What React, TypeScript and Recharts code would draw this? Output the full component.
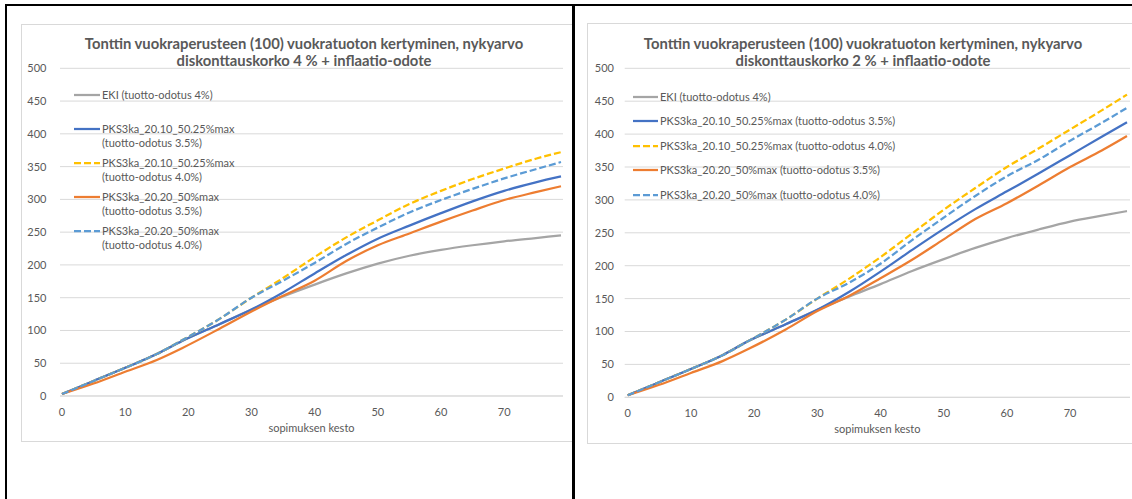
import { LineChart, Line, XAxis, YAxis, CartesianGrid, Legend } from "recharts";

const years = [0, 5, 10, 15, 19, 25, 30, 35, 40, 45, 50, 55, 60, 65, 70, 75, 79];
const xTicks = [0, 10, 20, 30, 40, 50, 60, 70];
const yTicks = [0, 50, 100, 150, 200, 250, 300, 350, 400, 450, 500];

const seriesNames = [
  "EKI (tuotto-odotus 4%)",
  "PKS3ka_20.10_50.25%max (tuotto-odotus 3.5%)",
  "PKS3ka_20.10_50.25%max (tuotto-odotus 4.0%)",
  "PKS3ka_20.20_50%max (tuotto-odotus 3.5%)",
  "PKS3ka_20.20_50%max (tuotto-odotus 4.0%)",
];

// diskonttauskorko 4 %
const eki4 = [3, 23, 43, 64, 84, 110, 132, 152, 170, 187, 202, 214, 223, 230, 236, 241, 245];
const pks1035_4 = [3, 23, 43, 64, 84, 110, 132, 158, 187, 215, 240, 260, 279, 297, 313, 326, 335];
const pks1040_4 = [3, 23, 43, 64, 85, 118, 150, 180, 212, 242, 268, 293, 313, 331, 347, 362, 372];
const pks2035_4 = [3, 19, 37, 55, 73, 103, 129, 153, 176, 206, 230, 248, 266, 283, 299, 311, 320];
const pks2040_4 = [3, 23, 43, 64, 85, 118, 150, 176, 203, 232, 257, 280, 299, 316, 332, 346, 357];

// diskonttauskorko 2 %
const eki2 = [3, 23, 43, 64, 85, 111, 133, 153, 172, 192, 210, 227, 242, 255, 267, 276, 283];
const pks1035_2 = [3, 23, 43, 64, 85, 111, 133, 160, 191, 224, 256, 286, 313, 340, 368, 396, 418];
const pks1040_2 = [3, 23, 43, 64, 85, 118, 150, 180, 213, 249, 285, 318, 350, 378, 407, 436, 460];
const pks2035_2 = [3, 19, 37, 55, 73, 103, 131, 154, 181, 209, 240, 271, 295, 322, 350, 375, 397];
const pks2040_2 = [3, 23, 43, 64, 85, 118, 150, 174, 203, 239, 273, 306, 336, 361, 390, 417, 440];

const styles = [
  { key: "s0", color: "#A5A5A5", dash: undefined },
  { key: "s1", color: "#4472C4", dash: undefined },
  { key: "s2", color: "#FFC000", dash: "7 3" },
  { key: "s3", color: "#ED7D31", dash: undefined },
  { key: "s4", color: "#5B9BD5", dash: "7 3" },
];

const TEXT = "#595959";
const FONT = "Lato, 'Open Sans', sans-serif";

const buildRows = (cols: number[][]) =>
  years.map((year, i) => {
    const row: Record<string, number> = { year };
    cols.forEach((c, j) => (row["s" + j] = c[i]));
    return row;
  });

type PanelProps = {
  left: number;
  width: number;
  title: string[];
  titleCenter: number;
  rows: Record<string, number>[];
  margin: { top: number; right: number; bottom: number; left: number };
  padX: number;
  yTickGap: number;
  legend: { left: number; top: number; width: number; step: number; textLeft: number };
};

const Panel = (p: PanelProps) => {
  const renderLegend = () => (
    <div style={{ position: "relative", width: p.legend.width, fontFamily: FONT, fontSize: 11, color: TEXT }}>
      {styles.map((s, i) => (
        <div
          key={s.key}
          style={{ position: "absolute", left: 0, top: i * p.legend.step, display: "flex", alignItems: "flex-start" }}
        >
          <svg width={p.legend.textLeft - 2} height={14} style={{ flex: "none" }}>
            <line x1={0} y1={7} x2={p.legend.textLeft - 2} y2={7} stroke={s.color} strokeWidth={2.25} strokeDasharray={s.dash} />
          </svg>
          <span style={{ marginLeft: 2, lineHeight: "14.3px", width: p.legend.width - p.legend.textLeft }}>{seriesNames[i]}</span>
        </div>
      ))}
    </div>
  );

  return (
    <div style={{ position: "absolute", left: p.left, top: 0, width: p.width, height: 499 }}>
      <div
        style={{
          position: "absolute",
          left: p.titleCenter - p.left - 260,
          width: 520,
          top: 34.5,
          textAlign: "center",
          fontFamily: FONT,
          fontWeight: 700,
          fontSize: 14.8,
          lineHeight: "17.5px",
          color: TEXT,
        }}
      >
        {p.title.map((t) => (
          <div key={t}>{t}</div>
        ))}
      </div>
      <LineChart width={p.width} height={499} data={p.rows} margin={p.margin} style={{ fontFamily: FONT }}>
        <CartesianGrid vertical={false} stroke="#D9D9D9" />
        <XAxis
          dataKey="year"
          type="number"
          domain={[0, 79]}
          ticks={xTicks}
          padding={{ left: p.padX, right: p.padX }}
          height={40}
          tickLine={false}
          tickSize={6}
          tickMargin={6}
          axisLine={{ stroke: "#D9D9D9" }}
          tick={{ fill: TEXT, fontSize: 11 }}
          label={{ value: "sopimuksen kesto", position: "insideBottom", offset: 4, fill: TEXT, fontSize: 11 }}
        />
        <YAxis
          domain={[0, 500]}
          ticks={yTicks}
          width={40}
          axisLine={false}
          tickLine={false}
          tickSize={6}
          tickMargin={p.yTickGap - 6}
          tick={{ fill: TEXT, fontSize: 11 }}
        />
        <Legend
          layout="vertical"
          align="center"
          verticalAlign="middle"
          content={renderLegend}
          wrapperStyle={{ left: p.legend.left, top: p.legend.top, width: p.legend.width, height: 5 * p.legend.step }}
        />
        {styles.map((s, i) => (
          <Line
            key={s.key}
            type="monotone"
            dataKey={s.key}
            name={seriesNames[i]}
            stroke={s.color}
            strokeWidth={2.25}
            strokeDasharray={s.dash}
            dot={false}
            isAnimationActive={false}
          />
        ))}
      </LineChart>
    </div>
  );
};

const App = () => {
  const rows4 = buildRows([eki4, pks1035_4, pks1040_4, pks2035_4, pks2040_4]);
  const rows2 = buildRows([eki2, pks1035_2, pks1040_2, pks2035_2, pks2040_2]);
  return (
    <div style={{ position: "relative", width: 1132, height: 499, overflow: "hidden", background: "#fff" }}>
      <style>{`body { margin: 0; }`}</style>
      {/* inner chart boxes */}
      <div style={{ position: "absolute", left: 21, top: 24, width: 552, height: 416, border: "1px solid #D9D9D9" }} />
      <div style={{ position: "absolute", left: 587, top: 23, width: 560, height: 419, border: "1px solid #D9D9D9" }} />
      <Panel
        left={0}
        width={572}
        title={["Tonttin vuokraperusteen (100) vuokratuoton kertyminen, nykyarvo", "diskonttauskorko 4 % + inflaatio-odote"]}
        titleCenter={304}
        rows={rows4}
        margin={{ top: 68.3, right: 9, bottom: 63, left: 20 }}
        padX={2}
        yTickGap={13.5}
        legend={{ left: 74, top: 88, width: 170, step: 33.9, textLeft: 28 }}
      />
      <Panel
        left={572}
        width={560}
        title={["Tonttin vuokraperusteen (100) vuokratuoton kertyminen, nykyarvo", "diskonttauskorko 2 % + inflaatio-odote"]}
        titleCenter={863}
        rows={rows2}
        margin={{ top: 68.3, right: 2, bottom: 61.7, left: 12.7 }}
        padX={3}
        yTickGap={10.7}
        legend={{ left: 633 - 572, top: 89.7, width: 320, step: 24.6, textLeft: 27 }}
      />
      {/* black frames */}
      <div style={{ position: "absolute", left: 5, top: 4, width: 566, height: 560, border: "2px solid #000", pointerEvents: "none" }} />
      <div style={{ position: "absolute", left: 572, top: 4, width: 600, height: 560, border: "2px solid #000", pointerEvents: "none" }} />
    </div>
  );
};

export default App;
